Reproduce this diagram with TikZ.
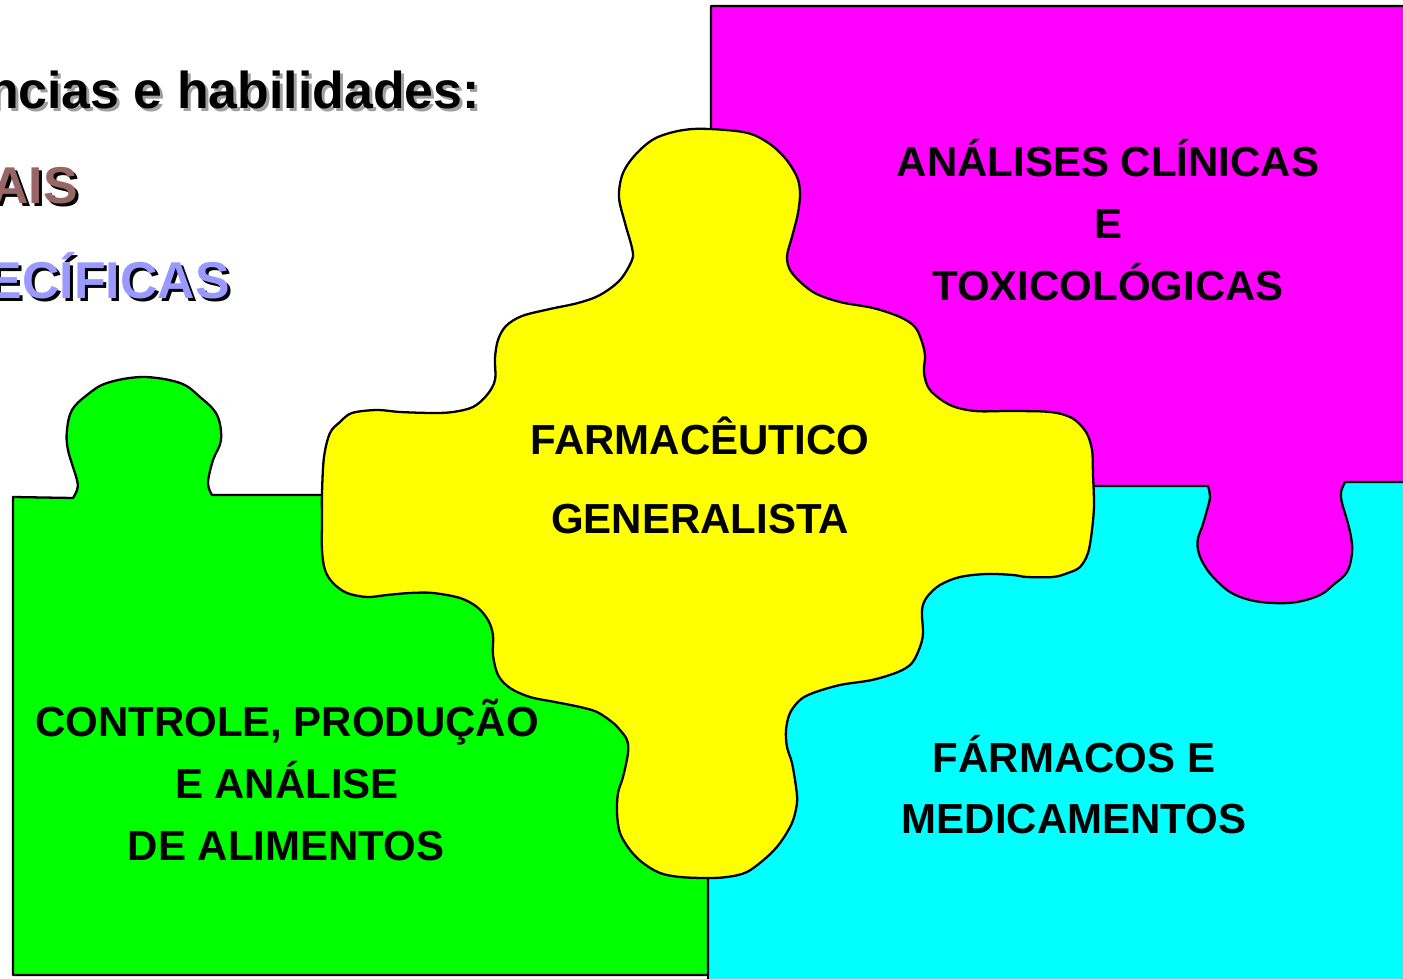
\documentclass[tikz,border=0pt]{standalone}
\usepackage{fontspec}
\setmainfont{Liberation Sans}
\definecolor{tabmagenta}{HTML}{FF00FF}
\definecolor{tabcyan}{HTML}{00FFFF}
\definecolor{tabgreen}{HTML}{00FF00}
\definecolor{tabyellow}{HTML}{FFFF00}
\definecolor{shadowgray}{HTML}{A0A0A0}
\definecolor{headbrown}{HTML}{996666}
\definecolor{headblue}{HTML}{9999FF}
\tikzset{
  piece/.style={draw=black, line width=1.3pt, line join=round},
  label/.style={font=\fontsize{23.9}{28}\selectfont\bfseries, anchor=base, inner sep=0pt},
  head/.style={font=\fontsize{29.5}{34}\selectfont\bfseries, anchor=base east, inner sep=0pt}
}

\begin{document}
\begin{tikzpicture}[x=0.02cm, y=-0.02cm]
\useasboundingbox (0,0) rectangle (1403,979);
\clip (0,0) rectangle (1403,979);
% Cyan piece
    \fill[tabcyan] (708,480) rectangle (1420,995);
    \draw[piece] (708,870) -- (708,995);
% Magenta piece
    \filldraw[piece, fill=tabmagenta] (711,486) -- (711,6) -- (1420,6) -- (1420,482) -- (1345,482)
      -- plot[smooth, tension=0.6] coordinates {(1345,482) (1341,492) (1342,503) (1347,520) (1351,537)
         (1352,553) (1347,572) (1333,585) (1320,595) (1297,602) (1273,603) (1250,600) (1230,592)
         (1213,577) (1203,563) (1198,550) (1198,538) (1202,527) (1207,510) (1210,497) (1208,486)}
      -- (1093,486) -- cycle;
% Green piece
    \filldraw[piece, fill=tabgreen] (13,497) -- (73,498)
      -- plot[smooth, tension=0.6] coordinates {(73,498) (77,490) (77,480) (68,450) (67,430) (72,410)
         (87,395) (107,383) (143,377) (180,383) (200,397) (217,415) (221,440) (213,460) (208,483) (212,495)}
      -- (708,495) -- (708,975) -- (13,975) -- cycle;
% Yellow piece
    \filldraw[piece, fill=tabyellow] plot[smooth cycle, tension=0.55] coordinates {
      (600,295) (620,280) (632,260) (632,248) (625,223) (619,197) (623,173) (637,153) (658,137)
      (693,129) (743,132) (767,142) (785,158) (797,177) (800,193) (798,213) (792,237) (787,257)
      (792,273) (813,292) (840,302) (873,308) (900,317) (915,327) (922,342) (925,356) (924,373)
      (930,390) (950,405) (975,411) (1010,411) (1050,412) (1072,418) (1086,432) (1092,450)
      (1093,475) (1094,505) (1092,530) (1088,553) (1080,567) (1068,573) (1053,577) (1027,577)
      (1013,575) (987,574) (960,577) (940,585) (927,597) (922,610) (923,633) (920,647) (912,663)
      (898,672) (872,680) (840,685) (813,693) (800,700) (790,713) (786,730) (787,747) (792,763)
      (796,787) (797,803) (792,823) (780,843) (767,857) (747,872) (727,877) (707,878) (680,877)
      (660,873) (643,863) (630,850) (620,833) (617,813) (618,793) (623,777) (628,753) (627,740)
      (620,730) (612,722) (597,712) (580,707) (555,702) (530,697) (510,688) (498,675) (493,655)
      (493,635) (488,620) (477,607) (460,598) (433,593) (410,593) (387,595) (367,597) (347,593)
      (333,583) (325,570) (322,550) (322,520) (322,493) (324,457) (330,433) (340,422) (352,413)
      (377,410) (400,412) (433,413) (453,412) (473,407) (487,395) (495,380) (495,358) (498,340)
      (506,326) (522,316) (550,309) (578,303)};
% Headings, cut at the left edge
    \node[head, text=shadowgray] (titleshadow) at (483,112) {ncias e habilidades:};
    \node[head] (title) at (480,109) {ncias e habilidades:};
    \node[head] (geraisshadow) at (81,207) {AIS};
    \node[head, text=headbrown] (gerais) at (78,204) {AIS};
    \node[head] (especificasshadow) at (233,302) {ECÍFICAS};
    \node[head, text=headblue] (especificas) at (230,299) {ECÍFICAS};
% Labels of the pieces
    \node[label] (analises) at (1108,177) {ANÁLISES CLÍNICAS};
    \node[label] (analisese) at (1108,239) {E};
    \node[label] (toxicologicas) at (1108,301) {TOXICOLÓGICAS};
    \node[label] (farmaceutico) at (700,455) {FARMACÊUTICO};
    \node[label] (generalista) at (700,534) {GENERALISTA};
    \node[label] (controle) at (287,736) {CONTROLE, PRODUÇÃO};
    \node[label] (eanalise) at (287,798) {E ANÁLISE};
    \node[label] (alimentos) at (286,860) {DE ALIMENTOS};
    \node[label] (farmacos) at (1074,772) {FÁRMACOS E};
    \node[label] (medicamentos) at (1074,833) {MEDICAMENTOS};
\end{tikzpicture}
\end{document}
